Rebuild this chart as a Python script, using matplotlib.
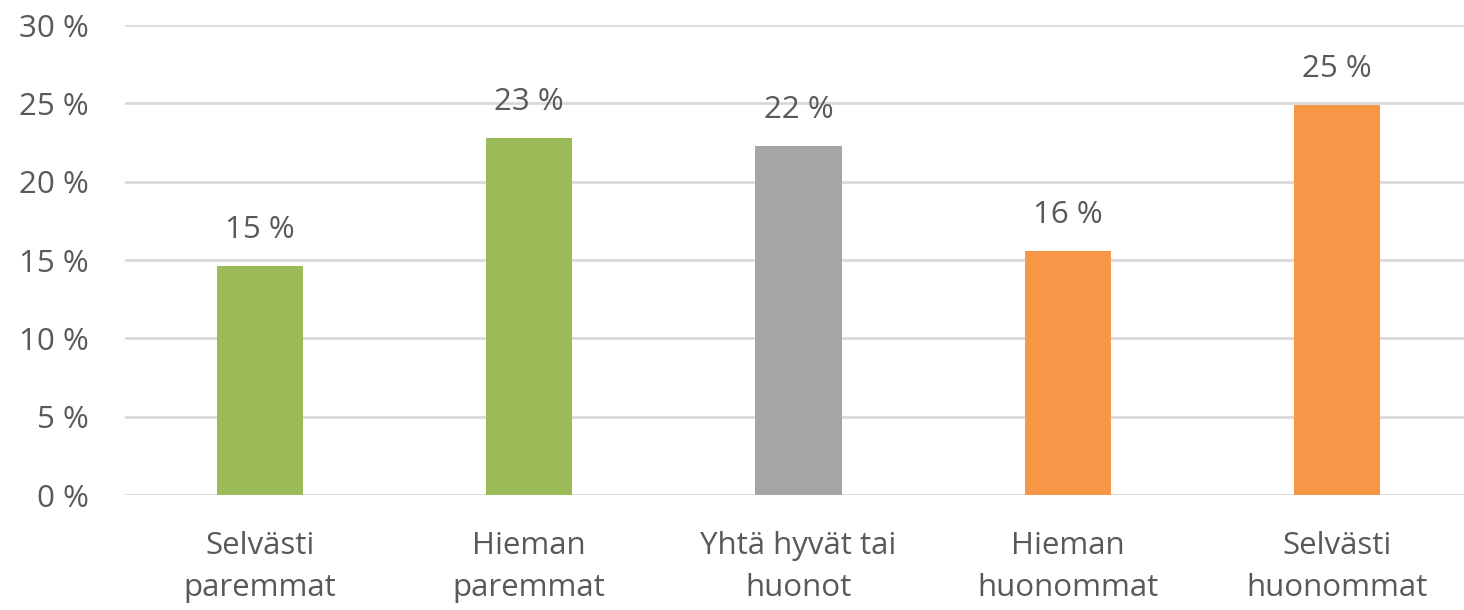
import matplotlib
matplotlib.use("Agg")
import matplotlib.pyplot as plt
from matplotlib.ticker import FuncFormatter

# data
categories = ["Selvästi\nparemmat", "Hieman\nparemmat", "Yhtä hyvät tai\nhuonot",
              "Hieman\nhuonommat", "Selvästi\nhuonommat"]
values = [14.6, 22.8, 22.3, 15.6, 24.9]
value_labels = ["15 %", "23 %", "22 %", "16 %", "25 %"]
colors = ["#9BBB59", "#9BBB59", "#A5A5A5", "#F79646", "#F79646"]
yticks = [0, 5, 10, 15, 20, 25, 30]

text_color = "#595959"
fs = 22.5
plt.rcParams["font.family"] = ["Open Sans", "DejaVu Sans"]

fig = plt.figure(figsize=(14.64, 6.10), dpi=100)
ax = fig.add_axes([0.0854, 0.1885, 0.92, 0.7705])

x = range(len(categories))
bars = ax.bar(x, values, width=0.32, color=colors, zorder=3)

# arvot pylväiden päälle
for bar, lab in zip(bars, value_labels):
    ax.annotate(lab, (bar.get_x() + bar.get_width() / 2, bar.get_height()),
                xytext=(0, 15), textcoords="offset points",
                ha="center", va="bottom", fontsize=fs, color=text_color)

ax.set_xlim(-0.5, 4.5)
ax.set_ylim(0, 30)
ax.set_yticks(yticks)
ax.yaxis.set_major_formatter(FuncFormatter(lambda v, p: f"{int(v)} %"))
ax.set_xticks(list(x))
ax.set_xticklabels(categories, linespacing=1.5)

ax.grid(axis="y", color="#D9D9D9", linewidth=2, zorder=0)
ax.tick_params(axis="both", length=0, labelsize=fs, colors=text_color)
ax.tick_params(axis="y", pad=26)
ax.tick_params(axis="x", pad=26)
for s in ax.spines.values():
    s.set_visible(False)

fig.savefig("out.png", dpi=100)
